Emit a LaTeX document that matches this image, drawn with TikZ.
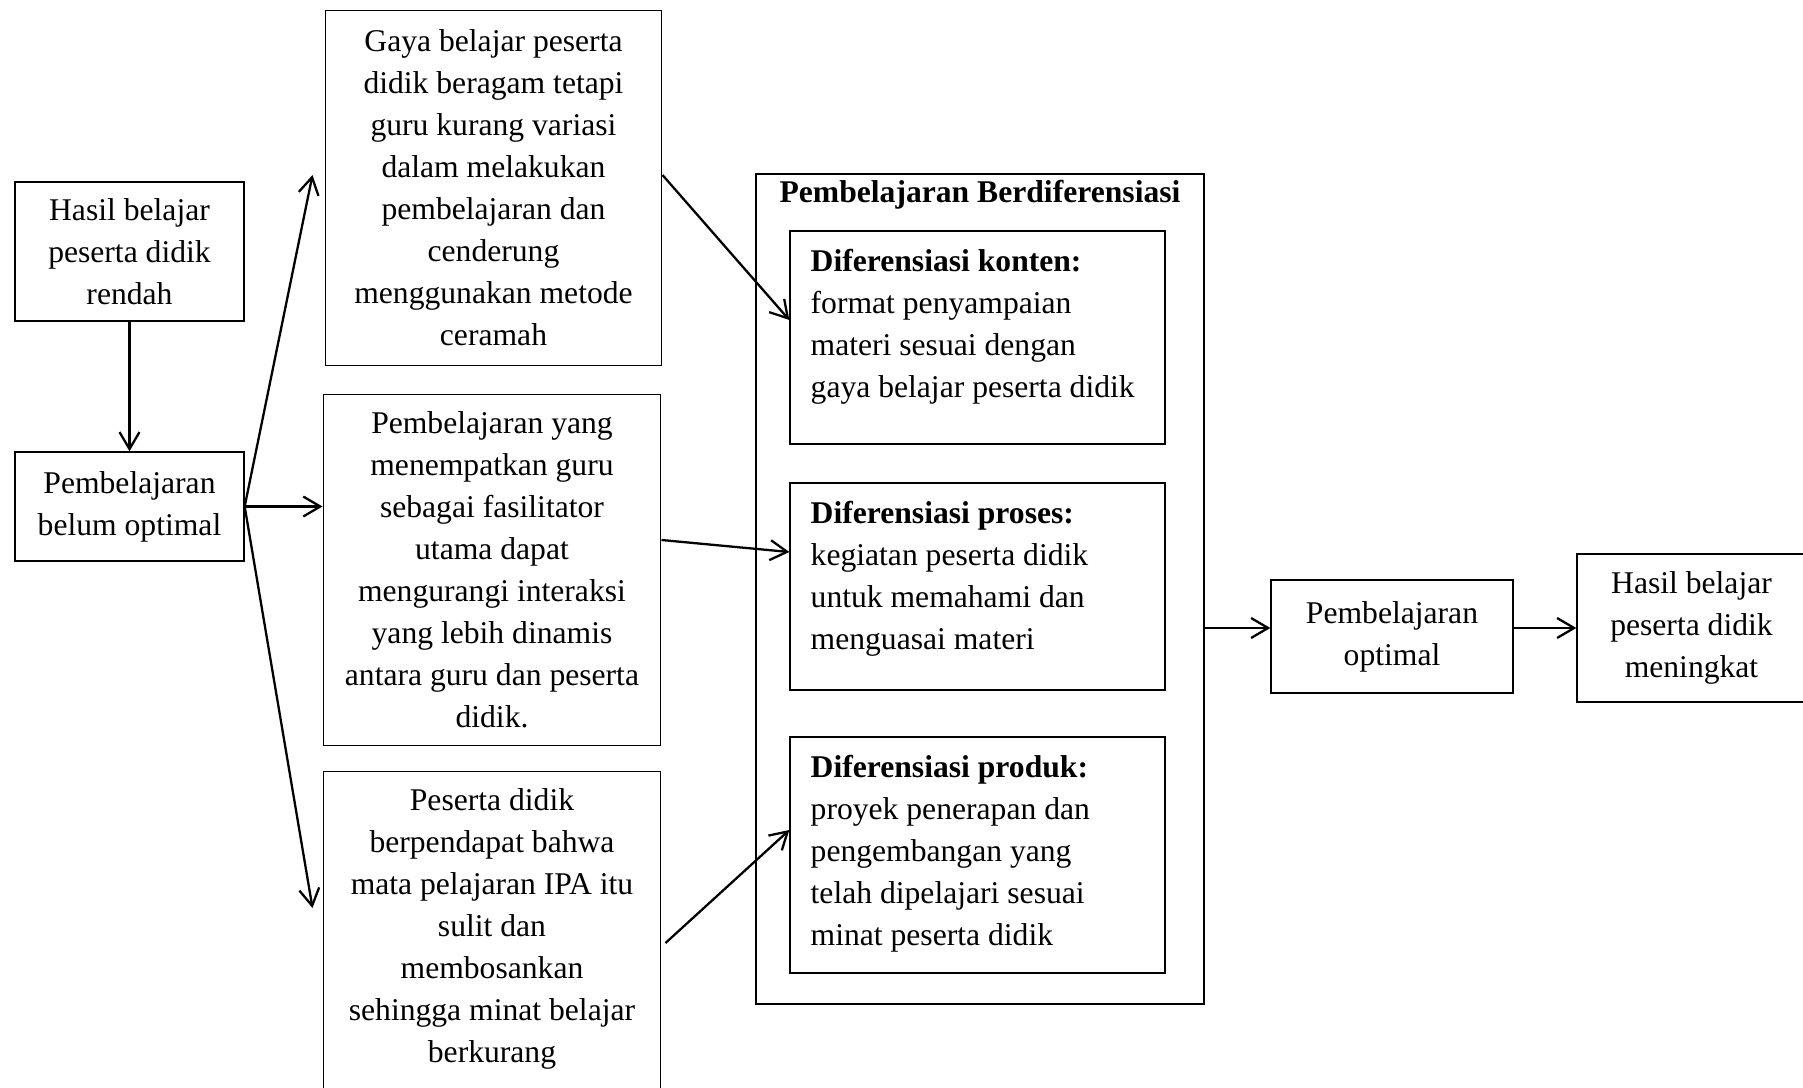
\documentclass[tikz,border=0pt]{standalone}
\usepackage{fontspec}
\setmainfont{Liberation Serif}
\usetikzlibrary{arrows.meta,positioning,calc}
\tikzset{
  >={Straight Barb[length=3.4mm,width=4mm]},
  box/.style={draw,line width=#1,align=center,inner sep=2pt},
  box/.default=0.8pt,
  note/.style={anchor=north west,inner sep=0pt,align=left},
  flow/.style={->,line width=1.3pt},
}

\begin{document}
\begin{tikzpicture}[x=0.02cm,y=-0.02cm,font=\fontsize{18}{23.9}\selectfont]
  \useasboundingbox (0,0) rectangle (1803,1088);
  % left column
  \node[box,minimum width=4.58cm,minimum height=2.78cm] (hasil) at (129.5,251.5) {Hasil belajar\\peserta didik\\rendah};
  \node[box,minimum width=4.58cm,minimum height=2.18cm] (belum) at (129.5,506.5) {Pembelajaran\\belum optimal};
  % problems
  \node[box=0.6pt,minimum width=6.74cm,minimum height=7.12cm] (gaya) at (493.5,188) {Gaya belajar peserta\\didik beragam tetapi\\guru kurang variasi\\dalam melakukan\\pembelajaran dan\\cenderung\\menggunakan metode\\ceramah};
  \node[box=0.6pt,minimum width=6.76cm,minimum height=7.04cm] (fasil) at (492,570) {Pembelajaran yang\\menempatkan guru\\sebagai fasilitator\\utama dapat\\mengurangi interaksi\\yang lebih dinamis\\antara guru dan peserta\\didik.};
  \node[box=0.6pt,minimum width=6.76cm,minimum height=6.6cm,text depth=0.42cm] (minat) at (492,936) {Peserta didik\\berpendapat bahwa\\mata pelajaran IPA itu\\sulit dan\\membosankan\\sehingga minat belajar\\berkurang};
  % differentiated learning
  \node[box=1.4pt,minimum width=8.96cm,minimum height=16.6cm] (diff) at (980,589) {};
  \node (judul) at (980,195) {\textbf{Pembelajaran Berdiferensiasi}};
  \node[box,minimum width=7.5cm,minimum height=4.26cm] (konten) at (977.5,337.5) {};
  \node[box,minimum width=7.5cm,minimum height=4.14cm] (proses) at (977.5,586.5) {};
  \node[box,minimum width=7.5cm,minimum height=4.72cm] (produk) at (977.5,855) {};
  \node[note] (kontentxt) at ([xshift=0.42cm,yshift=-0.37cm]konten.north west) {\textbf{Diferensiasi konten:}\\format penyampaian\\materi sesuai dengan\\gaya belajar peserta didik};
  \node[note] (prosestxt) at ([xshift=0.42cm,yshift=-0.37cm]proses.north west) {\textbf{Diferensiasi proses:}\\kegiatan peserta didik\\untuk memahami dan\\menguasai materi};
  \node[note] (produktxt) at ([xshift=0.42cm,yshift=-0.37cm]produk.north west) {\textbf{Diferensiasi produk:}\\proyek penerapan dan\\pengembangan yang\\telah dipelajari sesuai\\minat peserta didik};
  % outcome
  \node[box,minimum width=4.84cm,minimum height=2.26cm] (optimal) at (1392,636.5) {Pembelajaran\\optimal};
  \node[box,minimum width=4.58cm,minimum height=2.96cm] (naik) at (1691.5,628) {Hasil belajar\\peserta didik\\meningkat};
  % arrows
  \draw[flow] (hasil.south) -- (belum.north);
  \draw[flow] (belum.east) -- ([xshift=-0.24cm,yshift=0.26cm]gaya.west);
  \draw[flow] (belum.east) -- (belum.east -| fasil.west);
  \draw[flow] (belum.east) -- ([xshift=-0.2cm,yshift=0.56cm]minat.west);
  \draw[flow] ([yshift=0.26cm]gaya.east) -- ([yshift=0.35cm]konten.west);
  \draw[flow] ([yshift=0.6cm]fasil.east) -- ([yshift=0.69cm]proses.west);
  \draw[flow] ([xshift=0.08cm,yshift=-0.14cm]minat.east) -- ([yshift=0.5cm]produk.west);
  \draw[flow] (naik.west -| diff.east) -- (naik.west -| optimal.west);
  \draw[flow] (naik.west -| optimal.east) -- (naik.west);
\end{tikzpicture}
\end{document}
